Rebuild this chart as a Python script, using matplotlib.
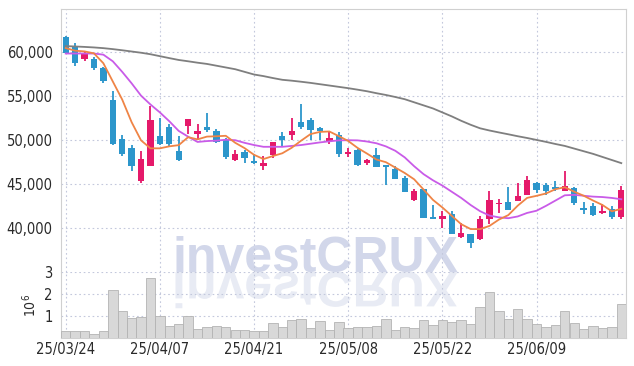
import matplotlib
matplotlib.use('Agg')
import matplotlib.pyplot as plt
import numpy as np
from matplotlib.textpath import TextPath
from matplotlib.patches import PathPatch
from matplotlib.font_manager import FontProperties
from matplotlib.transforms import Affine2D

# ---------------- data ----------------
tick_pos = [0, 10, 20, 30, 40, 50]
tick_labels = ['25/03/24', '25/04/07', '25/04/21', '25/05/08', '25/05/22', '25/06/09']

opens = [61700, 60680, 59140, 59170, 58120, 54540, 50130, 49110, 45300, 47000,
         50470, 51480, 48770, 51520, 50690, 51480, 51030, 50010, 47670, 48580,
         47560, 47070, 48240, 50470, 50500, 52050, 52280, 51330, 49900, 50580,
         48350, 48880, 47410, 48320, 47110, 46730, 45710, 43150, 44360, 41230,
         41050, 41530, 38960, 39270, 38700, 40960, 42660, 42920, 43030, 43760,
         45110, 44840, 44620, 44210, 44550, 42210, 42470, 41640, 42170, 41230]
highs = [61800, 61020, 60110, 59370, 58240, 55480, 50500, 49450, 48690, 53860,
         52460, 51820, 50390, 52400, 51790, 53030, 51220, 50200, 48800, 48880,
         48400, 48200, 49780, 50840, 52470, 54080, 52470, 51400, 50920, 50880,
         49070, 49000, 47800, 49070, 47150, 46990, 45940, 44360, 44400, 42550,
         41900, 41900, 40510, 39300, 41340, 44170, 43300, 44660, 45110, 45860,
         45200, 45110, 45300, 46430, 44600, 42920, 42850, 42740, 42470, 44730]
lows = [59800, 58420, 58980, 57930, 56420, 49450, 48200, 46430, 45110, 47000,
        49450, 49330, 47560, 50600, 50010, 50840, 49640, 47870, 47600, 47380,
        47300, 46620, 47940, 49190, 49930, 51220, 50010, 50010, 49560, 48010,
        48010, 46990, 47180, 46880, 44840, 45600, 44050, 43030, 41080, 41000,
        40000, 39270, 38900, 37760, 38650, 40400, 41720, 42000, 43000, 43700,
        43980, 43710, 44170, 44200, 42550, 41530, 41400, 41600, 41040, 41040]
closes = [59890, 58690, 59890, 58190, 56720, 49560, 48430, 47070, 47870, 52200,
          49560, 49560, 47750, 52390, 50950, 51140, 49750, 48010, 48430, 47900,
          47380, 47330, 49710, 50010, 51030, 51400, 51070, 50950, 50240, 48390,
          48660, 47110, 47750, 46880, 46880, 45600, 44050, 44170, 41080, 41000,
          41300, 39270, 39460, 38330, 40960, 43110, 42850, 42020, 43670, 45380,
          44280, 44170, 44440, 44810, 42850, 41990, 41450, 41900, 41230, 44250]
volume_m = [0.30, 0.30, 0.30, 0.17, 0.30, 2.17, 1.21, 0.89, 0.94, 2.71,
            0.98, 0.53, 0.62, 0.98, 0.42, 0.48, 0.53, 0.48, 0.35, 0.35,
            0.30, 0.30, 0.67, 0.48, 0.80, 0.85, 0.44, 0.76, 0.35, 0.71,
            0.44, 0.48, 0.48, 0.53, 0.85, 0.35, 0.48, 0.44, 0.80, 0.58,
            0.80, 0.71, 0.80, 0.62, 1.39, 2.08, 1.21, 0.85, 1.30, 0.85,
            0.62, 0.48, 0.58, 1.21, 0.67, 0.39, 0.53, 0.44, 0.48, 1.53]
ma5 = [60400, 60100, 60020, 59800, 58676, 56610, 54558, 51994, 49930, 49026,
       49026, 49252, 49388, 50292, 50042, 50358, 50396, 50448, 49656, 49046,
       48294, 47810, 48150, 48466, 49092, 49896, 50644, 50892, 50938, 50410,
       49862, 49070, 48430, 47758, 47456, 46844, 46232, 45516, 44356, 43180,
       42320, 41364, 40422, 39872, 39864, 40226, 40942, 41454, 42522, 43406,
       43640, 43904, 44388, 44616, 44110, 43652, 43108, 42600, 41884, 42164]
ma20 = [59780, 59780, 59780, 59780, 59650, 58900, 57700, 56400, 55000, 54000,
        53100, 52100, 51000, 50350, 49750, 49850, 49900, 50000, 49950, 49650,
        49400, 49200, 49200, 49200, 49300, 49400, 49550, 49700, 49820, 49930,
        49950, 49930, 49800, 49600, 49250, 48750, 48000, 47000, 46100, 45400,
        44800, 44100, 43400, 42600, 41900, 41400, 41200, 41100, 41300, 41700,
        41950, 42500, 43100, 43700, 43750, 43650, 43550, 43500, 43400, 43250]
ma60 = [60620, 60580, 60530, 60470, 60390, 60280, 60150, 60010, 59870, 59700,
        59480, 59260, 59050, 58900, 58740, 58600, 58400, 58200, 58000, 57700,
        57400, 57220, 57000, 56800, 56700, 56580, 56450, 56300, 56150, 56000,
        55850, 55680, 55500, 55280, 55080, 54850, 54600, 54250, 53900, 53550,
        53100, 52650, 52150, 51700, 51300, 51050, 50830, 50620, 50400, 50200,
        49980, 49760, 49520, 49300, 49000, 48700, 48400, 48050, 47700, 47350]

# ---------------- style ----------------
UP = '#e5196a'
DOWN = '#2c96cb'
GRID = '#c3c8dc'
SPINE = '#d0d0d0'
TXT = '#2a2a2a'
plt.rcParams['font.family'] = ['DejaVu Sans']
plt.rcParams['font.stretch'] = 'condensed'

W, H = 634, 366
fig = plt.figure(figsize=(W / 100, H / 100), dpi=100)
fig.patch.set_facecolor('white')

axp = fig.add_axes([61 / W, 1 - 272 / H, 565 / W, 263 / H])
axv = fig.add_axes([61 / W, 1 - 338 / H, 565 / W, 66 / H], sharex=axp)
for ax in (axp, axv):
    ax.set_facecolor('none')

# watermark (behind axes) and its mirrored reflection
WM_SIZE = 36
fig.text(172 / W, 1 - 272 / H, 'investCRUX', fontsize=WM_SIZE, fontweight='bold',
         family=['Liberation Sans'], fontstretch='normal', color='#d2d7ea',
         ha='left', va='baseline', zorder=-2)
fp = FontProperties(family='Liberation Sans', weight='bold')
tp = TextPath((0, 0), 'investCRUX', size=WM_SIZE * 100 / 72, prop=fp)
refl = PathPatch(tp, facecolor='#e8ebf4', edgecolor='none',
                 transform=Affine2D().scale(1, -1).translate(172, H - 272),
                 zorder=-2)
fig.add_artist(refl)

x = np.arange(len(closes))
o = np.array(opens); c = np.array(closes)
hi = np.array(highs); lo = np.array(lows)
colors = [UP if cc >= oo else DOWN for oo, cc in zip(o, c)]
bottoms = np.minimum(o, c)
heights = np.maximum(np.abs(c - o), 120)

axp.vlines(x, lo, hi, colors=colors, linewidth=1.3, zorder=3)
axp.bar(x, heights, bottom=bottoms, width=0.68, color=colors, zorder=4)
axp.plot(x, ma60, color='#7f7f7f', lw=1.3, zorder=5)
axp.plot(x, ma20, color='#c95be8', lw=1.3, zorder=5)
axp.plot(x, ma5, color='#ef8446', lw=1.3, zorder=6)

axp.set_xlim(-0.5, 59.5)
axp.set_ylim(35000, 64830)
axp.set_yticks([40000, 45000, 50000, 55000, 60000])
axp.set_yticklabels(['40,000', '45,000', '50,000', '55,000', '60,000'])
axp.tick_params(axis='y', length=0, pad=6, labelsize=10.5, labelcolor=TXT)
axp.tick_params(axis='x', length=0, labelbottom=False)
axp.set_xticks(tick_pos)
axp.grid(True, color=GRID, linestyle=(0, (1.5, 2.5)), linewidth=0.8, zorder=0)
axp.set_axisbelow(True)
for s in ('left', 'top', 'right'):
    axp.spines[s].set_color(SPINE)
axp.spines['bottom'].set_visible(False)

axv.bar(x, volume_m, width=1.0, color='#d8d8d8', edgecolor='#b3b3b3',
        linewidth=0.6, zorder=3)
axv.set_ylim(0, 3)
axv.set_yticks([1, 2, 3])
axv.set_yticklabels(['1', '2', '3'])
axv.set_xticks(tick_pos)
axv.set_xticklabels(tick_labels)
axv.tick_params(axis='both', length=0, labelsize=10.5, labelcolor=TXT)
axv.tick_params(axis='y', pad=6)
axv.tick_params(axis='x', pad=3)
axv.grid(True, color=GRID, linestyle=(0, (1.5, 2.5)), linewidth=0.8, zorder=0)
axv.set_axisbelow(True)
axv.set_ylabel(r'$10^6$', fontsize=10, color=TXT, labelpad=4)
axv.spines['top'].set_visible(False)
for s in ('left', 'bottom', 'right'):
    axv.spines[s].set_color(SPINE)

fig.savefig('out.png', dpi=100)
